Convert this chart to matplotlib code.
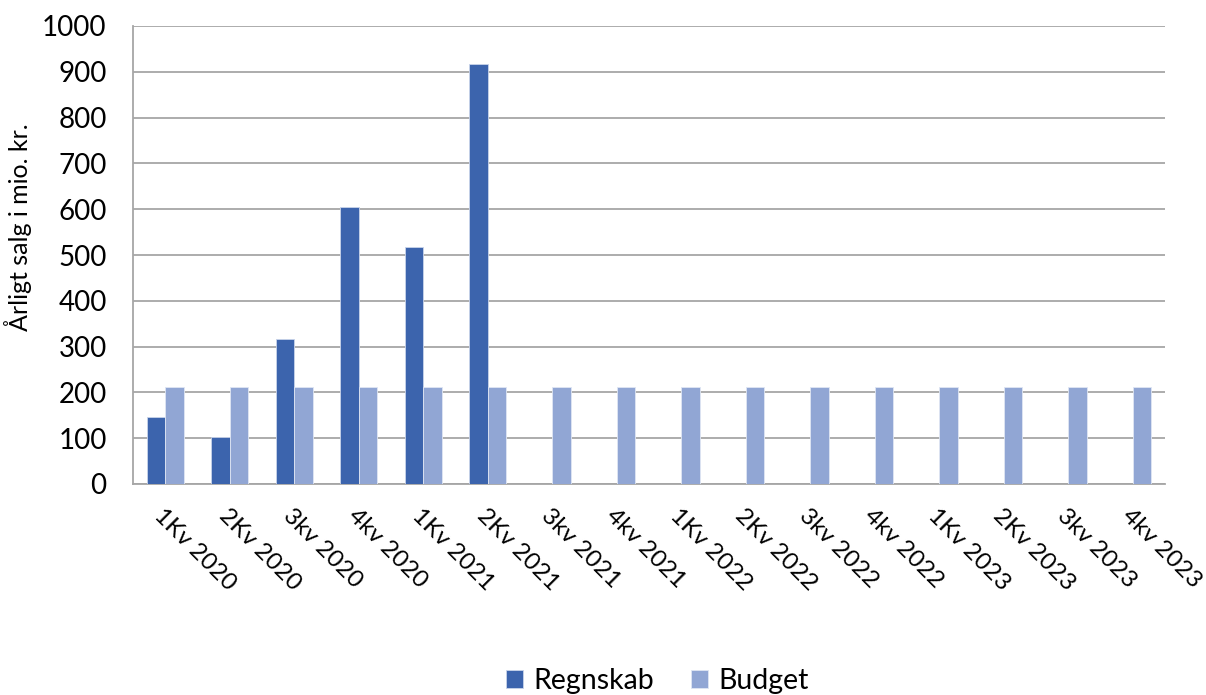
import matplotlib.pyplot as plt
import numpy as np

# data
kvartaler = ["1Kv 2020", "2Kv 2020", "3kv 2020", "4kv 2020",
             "1Kv 2021", "2Kv 2021", "3kv 2021", "4kv 2021",
             "1Kv 2022", "2Kv 2022", "3kv 2022", "4kv 2022",
             "1Kv 2023", "2Kv 2023", "3kv 2023", "4kv 2023"]
regnskab = [147, 103, 317, 604, 517, 916] + [0] * 10
budget = [211] * 16

plt.rcParams['font.family'] = ['Lato', 'DejaVu Sans']

fig = plt.figure(figsize=(12.06, 6.95), dpi=100)
ax = fig.add_axes([133 / 1206, 1 - 484 / 695, 1032 / 1206, 458 / 695])

x = np.arange(len(kvartaler))
w = 0.29
ax.bar(x[:6] - w, regnskab[:6], w, align='edge', color='#3c64ad',
       edgecolor='#c9d4ea', linewidth=0.6, label='Regnskab', zorder=3)
ax.bar(x, budget, w, align='edge', color='#91a6d4',
       edgecolor='#dfe6f3', linewidth=0.6, label='Budget', zorder=3)

ax.set_xlim(-0.5, len(kvartaler) - 0.5)
ax.set_ylim(0, 1000)
ax.set_yticks(range(0, 1001, 100))
ax.set_xticks(x)
ax.set_xticklabels(kvartaler, rotation=-45, ha='left', va='top',
                   rotation_mode='anchor', fontsize=17.5)
ax.tick_params(axis='y', labelsize=20, length=0, pad=19)
ax.tick_params(axis='x', length=0, pad=15)
ax.set_ylabel("Årligt salg i mio. kr.", fontsize=18)
ax.yaxis.set_label_coords(-0.098, 0.56)

ax.grid(axis='y', color='#a6a6a6', linewidth=1.3, zorder=0)
for s in ['top', 'right']:
    ax.spines[s].set_visible(False)
for s in ['left', 'bottom']:
    ax.spines[s].set_color('#a6a6a6')
    ax.spines[s].set_linewidth(1.3)

fig.legend(loc='lower center', bbox_to_anchor=(0.545, -0.036), ncol=2,
           frameon=False, fontsize=20.5, handlelength=0.6, handleheight=0.6,
           columnspacing=1.3, handletextpad=0.35)

fig.savefig("out.png", dpi=100)
